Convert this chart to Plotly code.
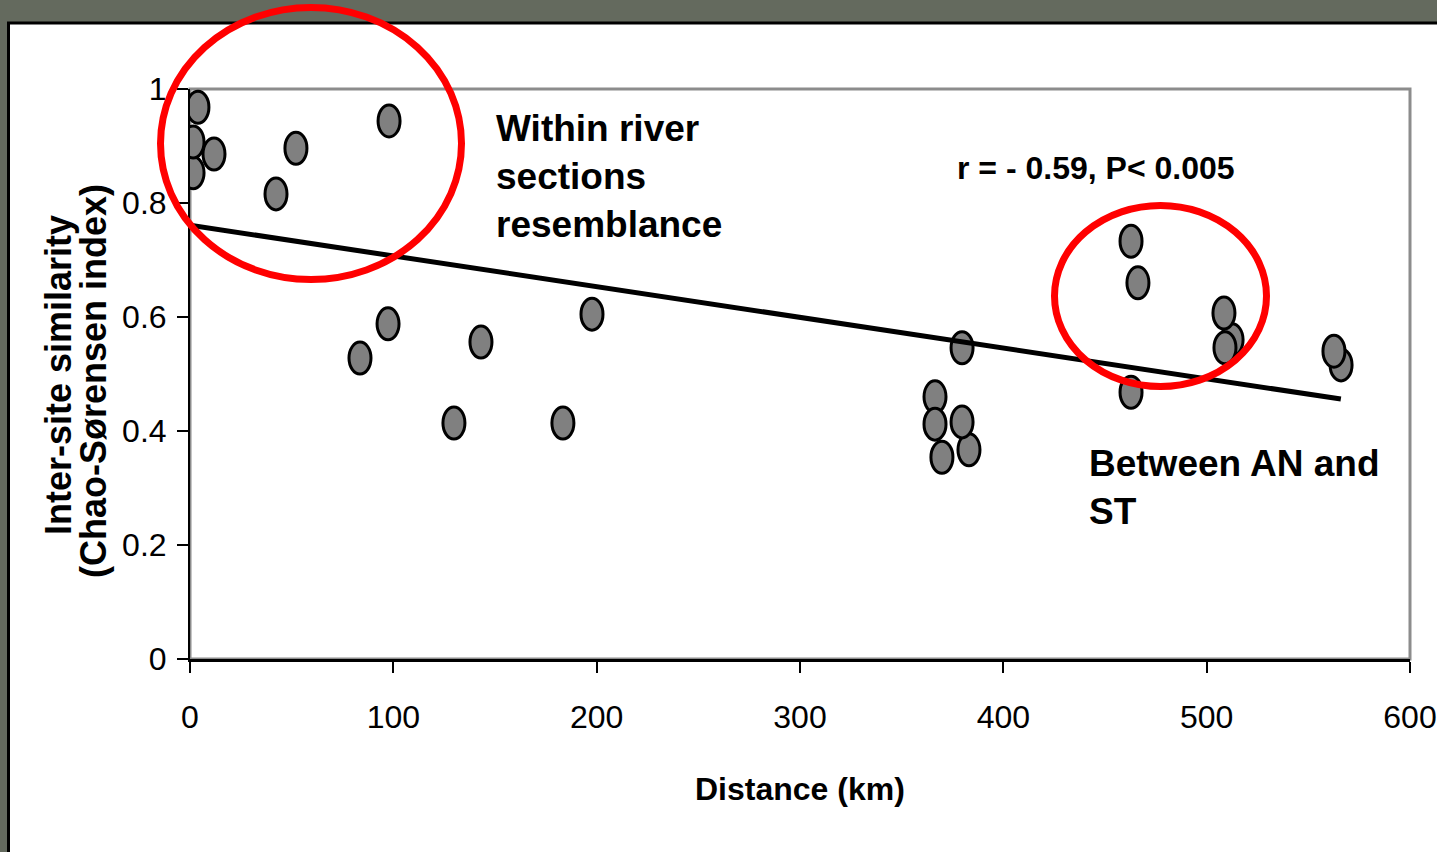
import plotly.graph_objects as go

# ---- data ----
distance_km = [3.9, 11.8, 1.5, 1.5, 42.3, 52.1, 97.9, 83.6, 97.4, 129.8, 143.1,
               183.4, 197.7, 366.4, 366.4, 369.8, 383.1, 379.7, 379.7, 462.8,
               466.2, 462.8, 512.5, 508.5, 509.0, 566.1, 562.6]
similarity = [0.968, 0.886, 0.853, 0.907, 0.816, 0.896, 0.944, 0.528, 0.588, 0.414,
              0.556, 0.414, 0.605, 0.460, 0.412, 0.354, 0.367, 0.416, 0.546, 0.733,
              0.660, 0.468, 0.560, 0.607, 0.546, 0.516, 0.540]
trend_x = [0, 566]
trend_y = [0.761, 0.456]
x_ticks = [0, 100, 200, 300, 400, 500, 600]
y_ticks = [0, 0.2, 0.4, 0.6, 0.8, 1.0]
y_tick_labels = ["0", "0.2", "0.4", "0.6", "0.8", "1"]

W, H = 1437, 852
L, R, T, B = 190, 27, 89, 193
PW, PH = W - L - R, H - T - B


def px(x):
    return (x - L) / PW


def py(y):
    return (H - B - y) / PH


ARIAL = "Liberation Sans, Arial, sans-serif"

fig = go.Figure()
fig.add_trace(go.Scatter(x=trend_x, y=trend_y, mode="lines",
                         line=dict(color="black", width=5), hoverinfo="skip",
                         showlegend=False))
# invisible hover trace for points
fig.add_trace(go.Scatter(x=distance_km, y=similarity, mode="markers",
                         marker=dict(size=24, color="rgba(0,0,0,0)"),
                         showlegend=False))

shapes = []
# white panel with black frame
shapes.append(dict(type="rect", xref="paper", yref="paper",
                   x0=px(8.5), x1=px(1460), y0=py(880), y1=py(23),
                   fillcolor="white", line=dict(color="black", width=3),
                   layer="below"))
# gray plot-area border
shapes.append(dict(type="rect", xref="paper", yref="paper",
                   x0=0, x1=1, y0=0, y1=1,
                   line=dict(color="#8c8c8c", width=3), layer="below"))
# points as ellipses anchored to data
for xv, yv in zip(distance_km, similarity):
    shapes.append(dict(type="circle", xref="x", yref="y",
                       xsizemode="pixel", ysizemode="pixel",
                       xanchor=xv, yanchor=yv,
                       x0=-11, x1=11, y0=-16, y1=16,
                       fillcolor="#808080", line=dict(color="black", width=3),
                       layer="below"))
# red highlight ellipses
shapes.append(dict(type="circle", xref="paper", yref="paper",
                   x0=px(160.5), x1=px(461.5), y0=py(279.5), y1=py(7.5),
                   line=dict(color="#ff0000", width=7), layer="above"))
shapes.append(dict(type="circle", xref="paper", yref="paper",
                   x0=px(1054.5), x1=px(1266.5), y0=py(386.5), y1=py(205.5),
                   line=dict(color="#ff0000", width=7), layer="above"))

annotations = [
    dict(text="Within river<br>sections<br>resemblance", x=px(494), y=py(176),
         xref="paper", yref="paper", xanchor="left", yanchor="middle",
         align="left", showarrow=False,
         font=dict(family=ARIAL, size=37, color="black", weight="bold")),
    dict(text="r = - 0.59, P< 0.005", x=px(955), y=py(168),
         xref="paper", yref="paper", xanchor="left", yanchor="middle",
         showarrow=False,
         font=dict(family=ARIAL, size=32, color="black", weight="bold")),
    dict(text="Between AN and<br>ST", x=px(1087), y=py(487.5),
         xref="paper", yref="paper", xanchor="left", yanchor="middle",
         align="left", showarrow=False,
         font=dict(family=ARIAL, size=37, color="black", weight="bold")),
    dict(text="Distance (km)", x=px(800), y=py(789),
         xref="paper", yref="paper", xanchor="center", yanchor="middle",
         showarrow=False,
         font=dict(family=ARIAL, size=32, color="black", weight="bold")),
    dict(text="Inter-site similarity", x=px(58), y=py(375), textangle=-90,
         xref="paper", yref="paper", xanchor="center", yanchor="middle",
         showarrow=False,
         font=dict(family=ARIAL, size=36, color="black", weight="bold")),
    dict(text="(Chao-Sørensen index)", x=px(93), y=py(381), textangle=-90,
         xref="paper", yref="paper", xanchor="center", yanchor="middle",
         showarrow=False,
         font=dict(family=ARIAL, size=36, color="black", weight="bold")),
]

fig.update_layout(
    width=W, height=H,
    margin=dict(l=L, r=R, t=T, b=B, pad=0, autoexpand=False),
    paper_bgcolor="#646a5e",
    plot_bgcolor="rgba(0,0,0,0)",
    shapes=shapes,
    annotations=annotations,
    showlegend=False,
    xaxis=dict(range=[0, 600], tickvals=x_ticks, ticks="outside", ticklen=11,
               tickwidth=2, tickcolor="black", showline=True, linecolor="black",
               linewidth=3, showgrid=False, zeroline=False, automargin=False,
               ticklabelstandoff=17, ticklabeloverflow="allow",
               tickfont=dict(family=ARIAL, size=32, color="black")),
    yaxis=dict(range=[0, 1], tickvals=y_ticks, ticktext=y_tick_labels,
               ticks="outside", ticklen=11, tickwidth=2, tickcolor="black",
               showline=True, linecolor="black", linewidth=2, showgrid=False,
               zeroline=False, automargin=False, ticklabelstandoff=4,
               ticklabeloverflow="allow",
               tickfont=dict(family=ARIAL, size=32, color="black")),
)

fig.write_html("out.html")
